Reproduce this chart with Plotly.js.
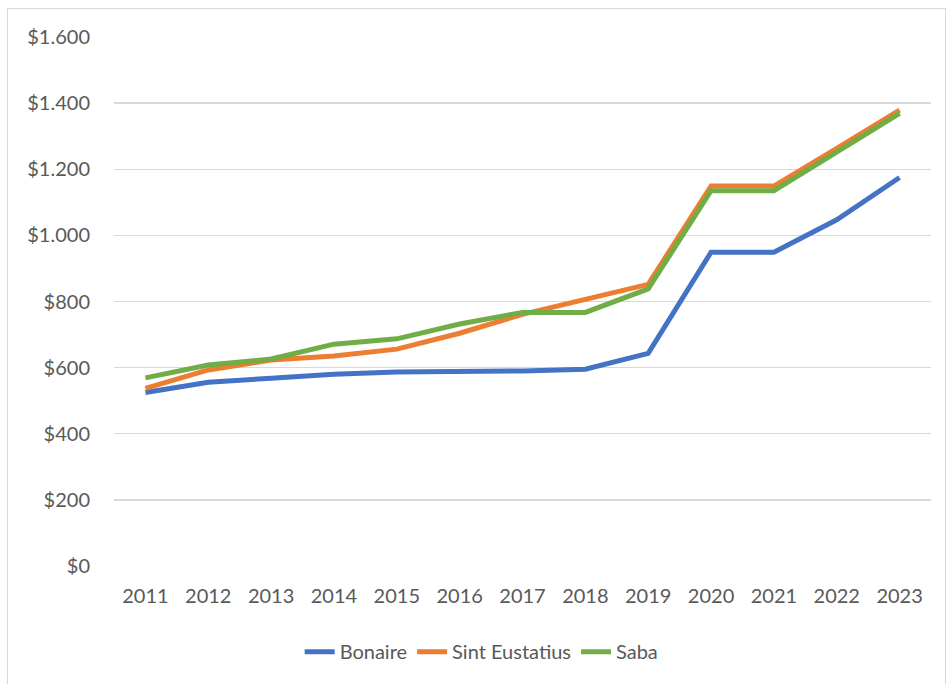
<!DOCTYPE html>
<html>
<head>
<meta charset="utf-8">
<script src="https://cdn.plot.ly/plotly-3.0.1.min.js"></script>
<style>
html,body{margin:0;padding:0;background:#fff;}
#chart{width:949px;height:684px;position:absolute;left:0;top:0;}
#frame{position:absolute;left:7px;top:8px;width:939px;height:690px;border:1px solid #d9d9d9;pointer-events:none;box-sizing:border-box;}
</style>
</head>
<body>
<div id="chart"></div>
<div id="frame"></div>
<script>
const years = ["2011","2012","2013","2014","2015","2016","2017","2018","2019","2020","2021","2022","2023"];
const bonaire = [525, 556, 568, 580, 587, 587, 590, 595, 643, 949, 949, 1047, 1175];
const sintEustatius = [537, 593, 623, 635, 656, 704, 761, 805, 852, 1149, 1149, 1263, 1379];
const saba = [569, 608, 626, 671, 687, 732, 767, 767, 838, 1135, 1135, 1253, 1369];
const seriesNames = ["Bonaire", "Sint Eustatius", "Saba"];
const colors = ["#4472C4", "#ED7D31", "#70AD47"];

const allSeries = [bonaire, sintEustatius, saba];
const traces = allSeries.map((vals, i) => ({
  x: years,
  y: vals,
  name: seriesNames[i],
  type: "scatter",
  mode: "lines",
  line: {color: colors[i], width: 5, shape: "linear"},
  hoverinfo: "skip"
}));

const font = {family: "Lato, 'Open Sans', sans-serif", size: 20, color: "#595959"};

const layout = {
  width: 949,
  height: 684,
  margin: {l: 114, r: 18, t: 37, b: 118},
  paper_bgcolor: "#ffffff",
  plot_bgcolor: "#ffffff",
  separators: ",.",
  font: font,
  showlegend: true,
  legend: {
    orientation: "h",
    x: 0.45,
    xanchor: "center",
    y: -0.125,
    yanchor: "top",
    font: font,
    itemwidth: 30,
    traceorder: "normal"
  },
  xaxis: {
    type: "category",
    range: [-0.5, 12.5],
    showgrid: false,
    zeroline: false,
    showline: false,
    ticks: "",
    ticklabelstandoff: 16,
    tickfont: font,
    fixedrange: true
  },
  yaxis: {
    range: [0, 1600],
    dtick: 200,
    tick0: 0,
    tickprefix: "$",
    tickformat: ",.0f",
    showgrid: true,
    gridcolor: "#d9d9d9",
    gridwidth: 1.3,
    zeroline: false,
    showline: false,
    ticks: "",
    ticklabelstandoff: 23,
    tickfont: font,
    fixedrange: true
  }
};

Plotly.newPlot("chart", traces, layout, {displayModeBar: false, staticPlot: true});
</script>
</body>
</html>
